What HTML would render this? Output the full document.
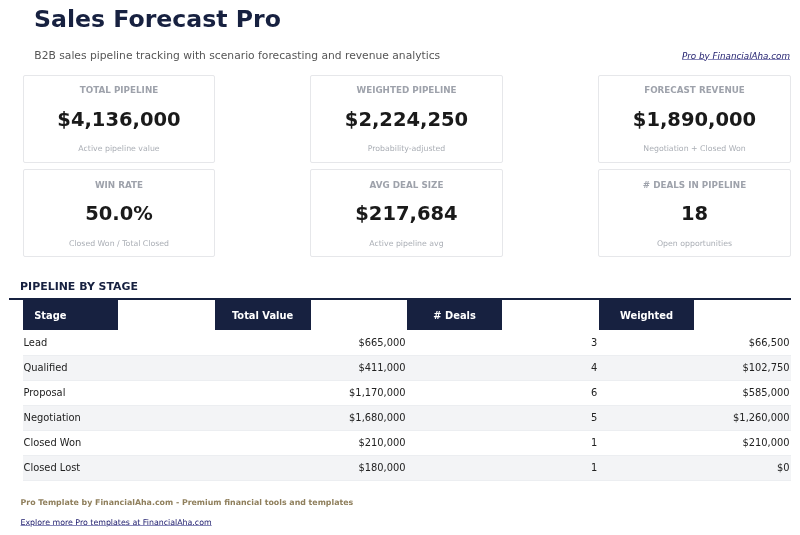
<!DOCTYPE html>
<html><head><meta charset="utf-8"><title>Sales Forecast Pro</title>
<style>
html,body{margin:0;padding:0;background:#fff;}
body{will-change:transform;width:800px;height:535px;position:relative;overflow:hidden;font-family:"DejaVu Sans","Liberation Sans",sans-serif;}
.t{position:absolute;white-space:nowrap;}
.t a{text-decoration:underline;color:inherit;text-decoration-thickness:1px;text-underline-offset:0px;text-decoration-color:#8a89bb;}
.card{position:absolute;box-sizing:border-box;border:1px solid #e6e7ea;border-radius:2px;background:#fff;}
.row{position:absolute;left:23px;width:767.5px;height:25px;box-sizing:border-box;border-bottom:1px solid #eef0f2;}
.hd{position:absolute;background:#172140;}
</style></head><body>
<div class="card" style="left:23px;top:75px;width:192px;height:88px"></div>
<div class="card" style="left:310px;top:75px;width:193px;height:88px"></div>
<div class="card" style="left:598px;top:75px;width:193px;height:88px"></div>
<div class="card" style="left:23px;top:169px;width:192px;height:88px"></div>
<div class="card" style="left:310px;top:169px;width:193px;height:88px"></div>
<div class="card" style="left:598px;top:169px;width:193px;height:88px"></div>
<div style="position:absolute;left:9px;top:298.4px;width:781.6px;height:1.8px;background:#172140"></div>
<div class="hd" style="left:23.00px;top:300.2px;width:95.30px;height:29.6px"></div>
<div class="hd" style="left:214.60px;top:300.2px;width:96.00px;height:29.6px"></div>
<div class="hd" style="left:406.80px;top:300.2px;width:95.60px;height:29.6px"></div>
<div class="hd" style="left:598.70px;top:300.2px;width:95.60px;height:29.6px"></div>
<div class="row" style="top:331.00px;background:#fff;border-bottom-color:#eceef1"></div>
<div class="row" style="top:356.00px;background:#f3f4f6;border-bottom-color:#eceef1"></div>
<div class="row" style="top:381.00px;background:#fff;border-bottom-color:#eceef1"></div>
<div class="row" style="top:406.00px;background:#f3f4f6;border-bottom-color:#eceef1"></div>
<div class="row" style="top:431.00px;background:#fff;border-bottom-color:#eceef1"></div>
<div class="row" style="top:456.00px;background:#f3f4f6;border-bottom-color:#eceef1"></div>
<div class="t" style="top:4.80px;left:34.00px;font-size:23.600px;line-height:28px;font-weight:700;color:#172140;">Sales Forecast Pro</div>
<div class="t" style="top:48.92px;left:34.30px;font-size:10.732px;line-height:13px;color:#555;">B2B sales pipeline tracking with scenario forecasting and revenue analytics</div>
<div class="t" style="top:50.70px;right:10.00px;font-size:8.780px;line-height:11px;color:#23216f;font-style:italic;"><a>Pro by FinancialAha.com</a></div>
<div class="t" style="top:84.75px;left:-81.00px;width:400px;text-align:center;font-size:8.780px;line-height:11px;font-weight:700;color:#9ea2ab;">TOTAL PIPELINE</div>
<div class="t" style="top:107.90px;left:-81.00px;width:400px;text-align:center;font-size:19.512px;line-height:23px;font-weight:700;color:#1a1a1a;">$4,136,000</div>
<div class="t" style="top:144.45px;left:-81.00px;width:400px;text-align:center;font-size:7.805px;line-height:9px;color:#aaaeb5;">Active pipeline value</div>
<div class="t" style="top:84.75px;left:206.50px;width:400px;text-align:center;font-size:8.780px;line-height:11px;font-weight:700;color:#9ea2ab;">WEIGHTED PIPELINE</div>
<div class="t" style="top:107.90px;left:206.50px;width:400px;text-align:center;font-size:19.512px;line-height:23px;font-weight:700;color:#1a1a1a;">$2,224,250</div>
<div class="t" style="top:144.45px;left:206.50px;width:400px;text-align:center;font-size:7.805px;line-height:9px;color:#aaaeb5;">Probability-adjusted</div>
<div class="t" style="top:84.75px;left:494.50px;width:400px;text-align:center;font-size:8.780px;line-height:11px;font-weight:700;color:#9ea2ab;">FORECAST REVENUE</div>
<div class="t" style="top:107.90px;left:494.50px;width:400px;text-align:center;font-size:19.512px;line-height:23px;font-weight:700;color:#1a1a1a;">$1,890,000</div>
<div class="t" style="top:144.45px;left:494.50px;width:400px;text-align:center;font-size:7.805px;line-height:9px;color:#aaaeb5;">Negotiation + Closed Won</div>
<div class="t" style="top:179.61px;left:-81.00px;width:400px;text-align:center;font-size:8.780px;line-height:11px;font-weight:700;color:#9ea2ab;">WIN RATE</div>
<div class="t" style="top:202.31px;left:-81.00px;width:400px;text-align:center;font-size:19.512px;line-height:23px;font-weight:700;color:#1a1a1a;">50.0%</div>
<div class="t" style="top:238.70px;left:-81.00px;width:400px;text-align:center;font-size:7.805px;line-height:9px;color:#aaaeb5;">Closed Won / Total Closed</div>
<div class="t" style="top:179.61px;left:206.50px;width:400px;text-align:center;font-size:8.780px;line-height:11px;font-weight:700;color:#9ea2ab;">AVG DEAL SIZE</div>
<div class="t" style="top:202.31px;left:206.50px;width:400px;text-align:center;font-size:19.512px;line-height:23px;font-weight:700;color:#1a1a1a;">$217,684</div>
<div class="t" style="top:238.70px;left:206.50px;width:400px;text-align:center;font-size:7.805px;line-height:9px;color:#aaaeb5;">Active pipeline avg</div>
<div class="t" style="top:179.61px;left:494.50px;width:400px;text-align:center;font-size:8.780px;line-height:11px;font-weight:700;color:#9ea2ab;"># DEALS IN PIPELINE</div>
<div class="t" style="top:202.31px;left:494.50px;width:400px;text-align:center;font-size:19.512px;line-height:23px;font-weight:700;color:#1a1a1a;">18</div>
<div class="t" style="top:238.70px;left:494.50px;width:400px;text-align:center;font-size:7.805px;line-height:9px;color:#aaaeb5;">Open opportunities</div>
<div class="t" style="top:279.50px;left:20.10px;font-size:10.950px;line-height:13px;font-weight:700;color:#172140;">PIPELINE BY STAGE</div>
<div class="t" style="top:309.50px;left:34.20px;font-size:9.900px;line-height:12px;font-weight:700;color:#fff;">Stage</div>
<div class="t" style="top:309.50px;left:62.60px;width:400px;text-align:center;font-size:9.900px;line-height:12px;font-weight:700;color:#fff;">Total Value</div>
<div class="t" style="top:309.50px;left:254.60px;width:400px;text-align:center;font-size:9.900px;line-height:12px;font-weight:700;color:#fff;"># Deals</div>
<div class="t" style="top:309.50px;left:446.50px;width:400px;text-align:center;font-size:9.900px;line-height:12px;font-weight:700;color:#fff;">Weighted</div>
<div class="t" style="top:337.00px;left:23.50px;font-size:9.900px;line-height:12px;color:#222;">Lead</div>
<div class="t" style="top:337.00px;right:394.40px;font-size:9.900px;line-height:12px;color:#222;">$665,000</div>
<div class="t" style="top:337.00px;right:202.60px;font-size:9.900px;line-height:12px;color:#222;">3</div>
<div class="t" style="top:337.00px;right:10.40px;font-size:9.900px;line-height:12px;color:#222;">$66,500</div>
<div class="t" style="top:362.00px;left:23.50px;font-size:9.900px;line-height:12px;color:#222;">Qualified</div>
<div class="t" style="top:362.00px;right:394.40px;font-size:9.900px;line-height:12px;color:#222;">$411,000</div>
<div class="t" style="top:362.00px;right:202.60px;font-size:9.900px;line-height:12px;color:#222;">4</div>
<div class="t" style="top:362.00px;right:10.40px;font-size:9.900px;line-height:12px;color:#222;">$102,750</div>
<div class="t" style="top:387.00px;left:23.50px;font-size:9.900px;line-height:12px;color:#222;">Proposal</div>
<div class="t" style="top:387.00px;right:394.40px;font-size:9.900px;line-height:12px;color:#222;">$1,170,000</div>
<div class="t" style="top:387.00px;right:202.60px;font-size:9.900px;line-height:12px;color:#222;">6</div>
<div class="t" style="top:387.00px;right:10.40px;font-size:9.900px;line-height:12px;color:#222;">$585,000</div>
<div class="t" style="top:412.00px;left:23.50px;font-size:9.900px;line-height:12px;color:#222;">Negotiation</div>
<div class="t" style="top:412.00px;right:394.40px;font-size:9.900px;line-height:12px;color:#222;">$1,680,000</div>
<div class="t" style="top:412.00px;right:202.60px;font-size:9.900px;line-height:12px;color:#222;">5</div>
<div class="t" style="top:412.00px;right:10.40px;font-size:9.900px;line-height:12px;color:#222;">$1,260,000</div>
<div class="t" style="top:437.00px;left:23.50px;font-size:9.900px;line-height:12px;color:#222;">Closed Won</div>
<div class="t" style="top:437.00px;right:394.40px;font-size:9.900px;line-height:12px;color:#222;">$210,000</div>
<div class="t" style="top:437.00px;right:202.60px;font-size:9.900px;line-height:12px;color:#222;">1</div>
<div class="t" style="top:437.00px;right:10.40px;font-size:9.900px;line-height:12px;color:#222;">$210,000</div>
<div class="t" style="top:462.00px;left:23.50px;font-size:9.900px;line-height:12px;color:#222;">Closed Lost</div>
<div class="t" style="top:462.00px;right:394.40px;font-size:9.900px;line-height:12px;color:#222;">$180,000</div>
<div class="t" style="top:462.00px;right:202.60px;font-size:9.900px;line-height:12px;color:#222;">1</div>
<div class="t" style="top:462.00px;right:10.40px;font-size:9.900px;line-height:12px;color:#222;">$0</div>
<div class="t" style="top:498.20px;left:20.50px;font-size:7.870px;line-height:9px;font-weight:700;color:#8f7f5c;">Pro Template by FinancialAha.com - Premium financial tools and templates</div>
<div class="t" style="top:517.81px;left:20.50px;font-size:7.870px;line-height:9px;color:#23216f;"><a>Explore more Pro templates at FinancialAha.com</a></div>
</body></html>
